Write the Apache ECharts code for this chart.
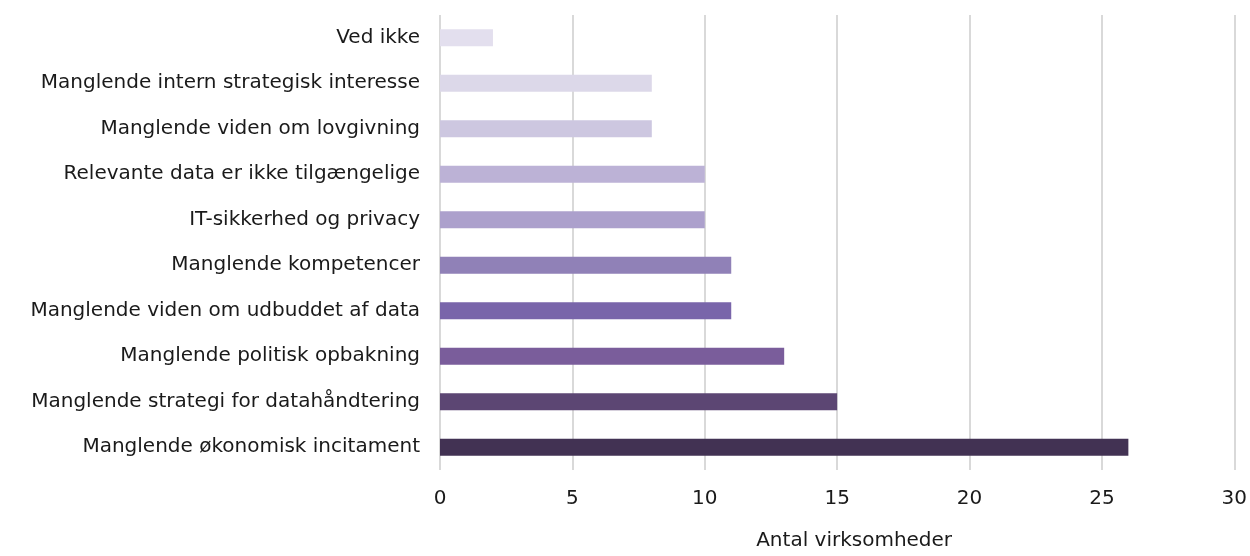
<!DOCTYPE html>
<html>
<head>
<meta charset="utf-8">
<script src="https://cdn.jsdelivr.net/npm/echarts@6/dist/echarts.min.js"></script>
<style>
  html, body { margin: 0; padding: 0; background: #fff; }
  #chart { width: 1250px; height: 556px; }
</style>
</head>
<body>
<div id="chart"></div>
<script>
// data, top to bottom as in the picture
const categories = [
  "Ved ikke",
  "Manglende intern strategisk interesse",
  "Manglende viden om lovgivning",
  "Relevante data er ikke tilgængelige",
  "IT-sikkerhed og privacy",
  "Manglende kompetencer",
  "Manglende viden om udbuddet af data",
  "Manglende politisk opbakning",
  "Manglende strategi for datahåndtering",
  "Manglende økonomisk incitament",
];
const values = [2, 8, 8, 10, 10, 11, 11, 13, 15, 26];
const barColors = [
  "#e3dfee", "#dcd8e9", "#cdc7e0", "#bcb2d6", "#aca0cc",
  "#9081b7", "#7965aa", "#7a5d9b", "#5c4673", "#423253",
];
const xTicks = [0, 5, 10, 15, 20, 25, 30];
const axisName = "Antal virksomheder";

const chart = echarts.init(document.getElementById("chart"), null, { renderer: "canvas" });

const font = "'DejaVu Sans', sans-serif";

const option = {
  backgroundColor: "#fff",
  animation: false,
  grid: { left: 440, right: 13, top: 15, bottom: 80 },
  xAxis: {
    type: "value",
    min: xTicks[0],
    max: xTicks[xTicks.length - 1],
    interval: xTicks[1] - xTicks[0],
    axisLine: { show: false },
    axisTick: { show: false },
    splitLine: { lineStyle: { color: "#d9d9d9", width: 2 } },
    axisLabel: { color: "#1a1a1a", fontSize: 20, fontFamily: font, margin: 19 },
    name: axisName,
    nameLocation: "middle",
    nameGap: 61,
    nameTextStyle: { color: "#1a1a1a", fontSize: 20, fontFamily: font, padding: [0, 0, 0, 34] },
  },
  yAxis: {
    type: "category",
    inverse: true,
    data: categories,
    axisLine: { show: false },
    axisTick: { show: false },
    axisLabel: { color: "#1a1a1a", fontSize: 20, fontFamily: font, margin: 20 },
  },
  series: [
    {
      type: "bar",
      barWidth: 17,
      data: values.map((v, i) => ({ value: v, itemStyle: { color: barColors[i] } })),
    },
  ],
};

chart.setOption(option);
</script>
</body>
</html>
